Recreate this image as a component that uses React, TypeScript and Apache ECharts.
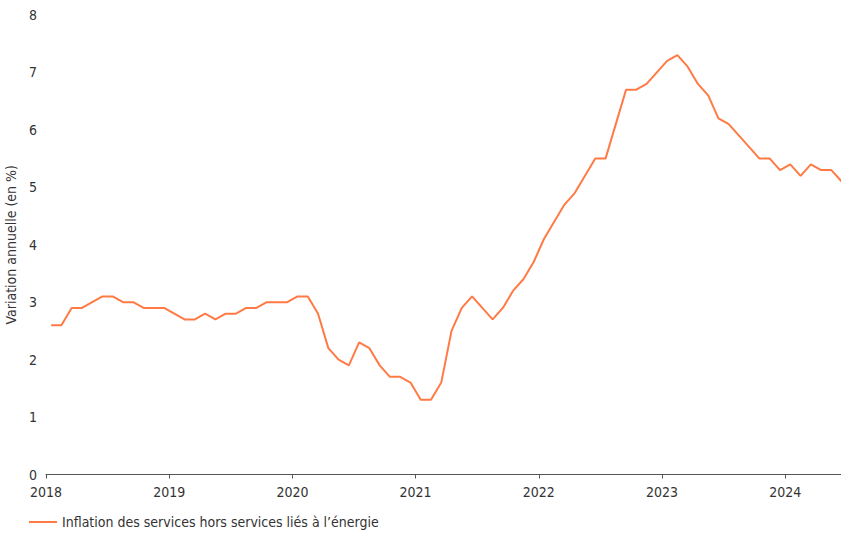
import React, { useEffect, useRef } from "react";
import * as echarts from "echarts";

const startYear = 2018;
const seriesName = "Inflation des services hors services liés à l’énergie";
const yAxisName = "Variation annuelle (en %)";
const yearTicks = [2018, 2019, 2020, 2021, 2022, 2023, 2024];
// Monthly values, January 2018 to June 2024
const values = [
  2.6, 2.6, 2.9, 2.9, 3.0, 3.1, 3.1, 3.0, 3.0, 2.9, 2.9, 2.9,
  2.8, 2.7, 2.7, 2.8, 2.7, 2.8, 2.8, 2.9, 2.9, 3.0, 3.0, 3.0,
  3.1, 3.1, 2.8, 2.2, 2.0, 1.9, 2.3, 2.2, 1.9, 1.7, 1.7, 1.6,
  1.3, 1.3, 1.6, 2.5, 2.9, 3.1, 2.9, 2.7, 2.9, 3.2, 3.4, 3.7,
  4.1, 4.4, 4.7, 4.9, 5.2, 5.5, 5.5, 6.1, 6.7, 6.7, 6.8, 7.0,
  7.2, 7.3, 7.1, 6.8, 6.6, 6.2, 6.1, 5.9, 5.7, 5.5, 5.5, 5.3,
  5.4, 5.2, 5.4, 5.3, 5.3, 5.1,
];

const FONT = "'Liberation Sans Narrow', 'DejaVu Sans Condensed', 'Roboto', sans-serif";
const TEXT = "#333333";

export default function App() {
  const ref = useRef<HTMLDivElement>(null);
  useEffect(() => {
    document.body.style.margin = "0";
    const chart = echarts.init(ref.current!, null, { renderer: "svg" });
    const data = values.map((v, i) => [startYear + (i + 0.5) / 12, v]);
    chart.setOption({
      animation: false,
      textStyle: { fontFamily: FONT },
      grid: { left: 46, right: 0, top: 15, bottom: 59.5, containLabel: false, outerBoundsMode: "none" },
      legend: {
        left: 29,
        top: 515,
        padding: 0,
        itemWidth: 28,
        itemHeight: 2,
        itemGap: 10,
        icon: "rect",
        textStyle: { fontFamily: FONT, fontSize: 14, color: TEXT, padding: [0, 0, 0, 0] },
        data: [seriesName],
      },
      xAxis: {
        type: "value",
        min: yearTicks[0],
        max: 2024.453,
        interval: 1,
        axisLine: { lineStyle: { color: "#555555", width: 1 } },
        axisTick: { show: true, length: 4, lineStyle: { color: "#555555" } },
        splitLine: { show: false },
        axisLabel: {
          color: TEXT,
          fontFamily: FONT,
          fontSize: 14,
          margin: 10,
          showMaxLabel: false,
          hideOverlap: false,
          formatter: (v: number) => (yearTicks.includes(v) ? String(v) : ""),
        },
      },
      yAxis: {
        type: "value",
        min: 0,
        max: 8,
        interval: 1,
        name: yAxisName,
        nameLocation: "middle",
        nameGap: 24,
        nameTextStyle: { color: TEXT, fontFamily: FONT, fontSize: 14 },
        axisLine: { show: false },
        axisTick: { show: false },
        splitLine: { show: false },
        axisLabel: { color: TEXT, fontFamily: FONT, fontSize: 14, margin: 9 },
      },
      series: [
        {
          name: seriesName,
          type: "line",
          data,
          symbol: "none",
          color: "#ff7a45",
          lineStyle: { width: 2, color: "#ff7a45" },
        },
      ],
    });
    return () => chart.dispose();
  }, []);
  return <div ref={ref} style={{ width: 841, height: 534, position: "absolute", left: 0, top: 0 }} />;
}
